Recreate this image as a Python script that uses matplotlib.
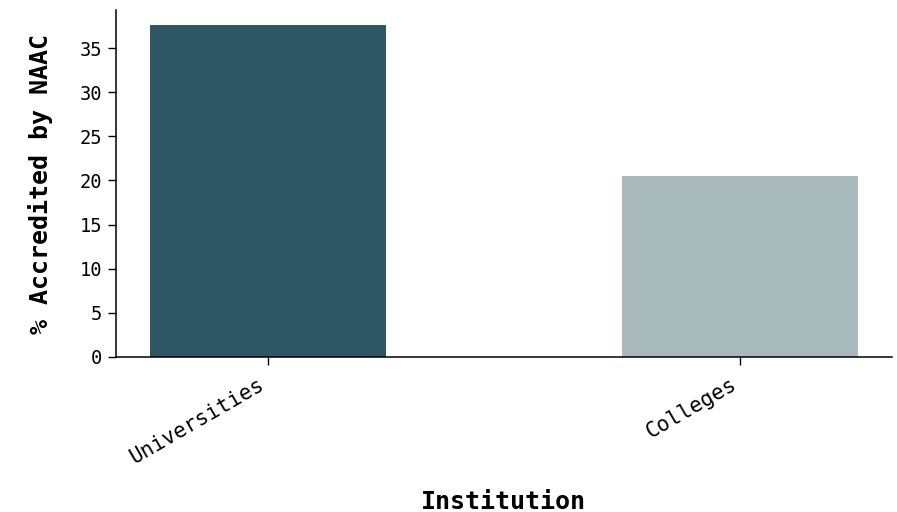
import matplotlib
matplotlib.use("Agg")
import matplotlib.pyplot as plt

plt.rcParams['font.family'] = ['DejaVu Sans Mono']

institutions = ['Universities', 'Colleges']
accredited_pct = [37.6, 20.5]
bar_colors = ['#2f5664', '#a8b9bc']

fig = plt.figure(figsize=(8.97, 5.12), dpi=100)
ax = fig.add_axes([0.129, 0.303, 0.865, 0.677])

ax.bar(range(len(institutions)), accredited_pct, width=0.5, color=bar_colors)
ax.set_xticks(range(len(institutions)))
ax.set_xticklabels(institutions, rotation=30, ha='right', fontsize=15)
ax.tick_params(axis='both', length=6, width=1)
ax.tick_params(axis='x', pad=6.5)
ax.tick_params(axis='y', labelsize=13.5, pad=4)
ax.set_xlim(-0.322, 1.322)
ax.set_ylim(0, 39.3)

ax.spines['top'].set_visible(False)
ax.spines['right'].set_visible(False)
ax.spines['left'].set_linewidth(1.1)
ax.spines['bottom'].set_linewidth(1.1)

ax.set_xlabel('Institution', fontsize=18, fontweight='bold', labelpad=16)
ax.set_ylabel('% Accredited by NAAC', fontsize=18, fontweight='bold', labelpad=19)

fig.savefig('out.png', dpi=100)
